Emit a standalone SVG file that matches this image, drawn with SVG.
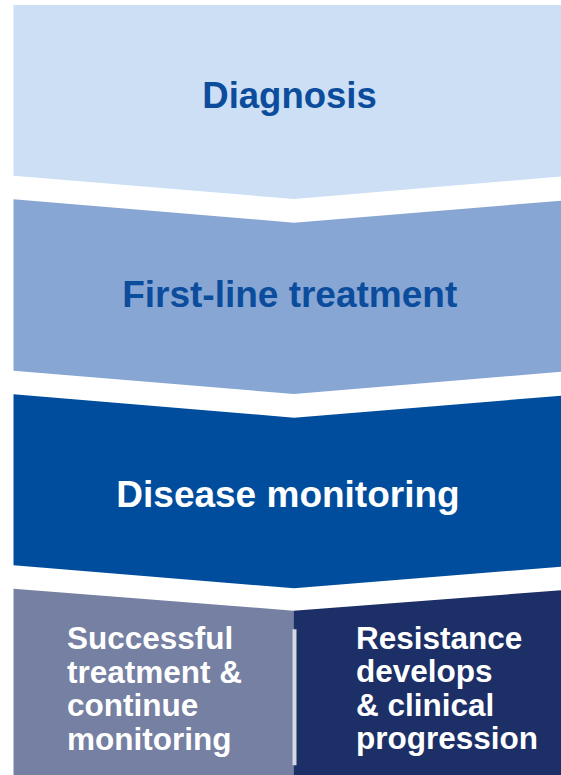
<svg xmlns="http://www.w3.org/2000/svg" width="561" height="775" viewBox="0 0 561 775">
  <style>
    .label { font-family: "Liberation Sans", Arial, sans-serif; font-weight: bold; }
    .stage { font-size: 36.5px; text-anchor: middle; }
    .wide { font-size: 37px; }
    .outcome { font-size: 31.5px; fill: #ffffff; }
    .dark { fill: #0B4C9C; }
    .light { fill: #ffffff; }
  </style>
  <rect width="561" height="775" fill="#ffffff"/>

  <!-- Stage 1 -->
  <g id="diagnosis">
    <polygon points="13.5,5 561,5 561,176.5 294,199 13.5,175.7" fill="#CCDFF4"/>
    <text class="label stage dark" x="289.5" y="108">Diagnosis</text>
  </g>

  <!-- Stage 2 -->
  <g id="first-line">
    <polygon points="13.5,199.3 294,222.7 561,200.7 561,371.7 294,394 13.5,370.7" fill="#87A6D4"/>
    <text class="label stage wide dark" x="289.7" y="306.5">First-line treatment</text>
  </g>

  <!-- Stage 3 -->
  <g id="monitoring">
    <polygon points="13.5,394.3 294,417.7 561,395.7 561,566.7 294,588.3 13.5,565.3" fill="#004D9D"/>
    <text class="label stage wide light" x="288" y="506.5">Disease monitoring</text>
  </g>

  <!-- Outcomes -->
  <g id="success">
    <polygon points="13.5,588.7 293.5,610.7 293.5,775 13.5,775" fill="#7580A2"/>
    <text class="label outcome" x="67" y="649">
      <tspan x="67" y="649">Successful</tspan>
      <tspan x="67" y="682.5">treatment &amp;</tspan>
      <tspan x="67" y="716">continue</tspan>
      <tspan x="67" y="749.5">monitoring</tspan>
    </text>
  </g>

  <g id="resistance">
    <polygon points="293.5,610.7 561,590.3 561,775 293.5,775" fill="#1C2F66"/>
    <text class="label outcome" x="356" y="648.5">
      <tspan x="356" y="648.5">Resistance</tspan>
      <tspan x="356" y="682">develops</tspan>
      <tspan x="356" y="715.5">&amp; clinical</tspan>
      <tspan x="356" y="749">progression</tspan>
    </text>
  </g>

  <g id="connectors">
    <line x1="294.5" y1="629.3" x2="294.5" y2="765.3" stroke="#D3D8E3" stroke-width="4"/>
  </g>
</svg>
